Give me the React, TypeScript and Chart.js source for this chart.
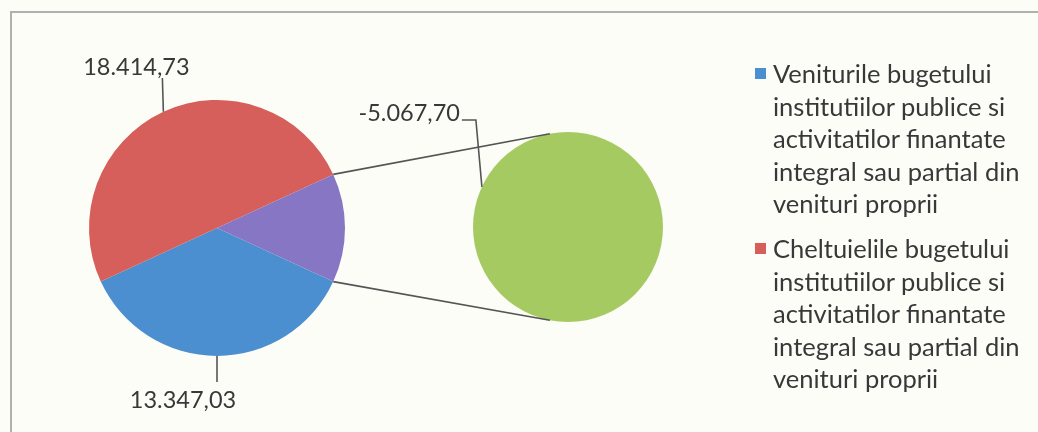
import React, { useEffect, useRef } from "react";
import { Chart, registerables } from "chart.js";
Chart.register(...registerables);

// ---- data ----
const mainCategories = [
  "Veniturile bugetului institutiilor publice si activitatilor finantate integral sau partial din venituri proprii",
  "Cheltuielile bugetului institutiilor publice si activitatilor finantate integral sau partial din venituri proprii",
  "Altele",
];
const mainValues = [13347.03, 18414.73, 5067.7];
const mainColors = ["#4b8fd0", "#d65f5b", "#8676c3"];

const secondaryCategories = ["Rezultat"];
const secondaryValues = [-5067.7];
const secondaryColors = ["#a6ca62"];

const legendItems = [
  {
    color: "#4b8fd0",
    lines: [
      "Veniturile bugetului",
      "institutiilor publice si",
      "activitatilor finantate",
      "integral sau partial din",
      "venituri proprii",
    ],
  },
  {
    color: "#d65f5b",
    lines: [
      "Cheltuielile bugetului",
      "institutiilor publice si",
      "activitatilor finantate",
      "integral sau partial din",
      "venituri proprii",
    ],
  },
];

const W = 1038;
const H = 432;
const BG = "#fdfdf8";
const TEXT = "#383838";
const LINE = "#555555";
const LABEL_FONT = "23.5px Lato";

function fmt(v: number): string {
  const neg = v < 0;
  const [i, d] = Math.abs(v).toFixed(2).split(".");
  const grouped = i.replace(/\B(?=(\d{3})+(?!\d))/g, ".");
  return (neg ? "-" : "") + grouped + "," + d;
}

export default function App() {
  const c1 = useRef<HTMLCanvasElement | null>(null);
  const c2 = useRef<HTMLCanvasElement | null>(null);

  useEffect(() => {
    document.body.style.background = BG;
    const total = mainValues.reduce((a, b) => a + b, 0);
    const otherAngle = (mainValues[2] / total) * 360;

    const mainLabelsPlugin = {
      id: "mainLabels",
      afterDraw(chart: any) {
        const ctx = chart.ctx;
        const arcs = chart.getDatasetMeta(0).data;
        ctx.save();
        ctx.strokeStyle = LINE;
        ctx.lineWidth = 1.6;
        ctx.fillStyle = TEXT;
        ctx.font = LABEL_FONT;
        ctx.textBaseline = "middle";
        ctx.textAlign = "center";
        // blue label (below)
        {
          const a: any = arcs[0];
          const m = (a.startAngle + a.endAngle) / 2;
          const px = a.x + a.outerRadius * Math.cos(m);
          const py = a.y + a.outerRadius * Math.sin(m);
          ctx.beginPath();
          ctx.moveTo(px, py);
          ctx.lineTo(px, py + 26);
          ctx.stroke();
          ctx.fillText(fmt(mainValues[0]), px - 34, py + 44);
        }
        // red label (above)
        {
          const a: any = arcs[1];
          const m = (a.startAngle + a.endAngle) / 2;
          const px = a.x + a.outerRadius * Math.cos(m);
          const py = a.y + a.outerRadius * Math.sin(m);
          ctx.beginPath();
          ctx.moveTo(px, py);
          ctx.lineTo(px - 1, 78);
          ctx.stroke();
          ctx.fillText(fmt(mainValues[1]), px - 27, 67);
        }
        ctx.restore();
      },
    };

    const chart1 = new Chart(c1.current!, {
      type: "pie",
      data: {
        labels: mainCategories,
        datasets: [
          {
            data: mainValues,
            backgroundColor: mainColors,
            borderWidth: 0,
          },
        ],
      },
      options: {
        responsive: false,
        animation: false,
        rotation: 90 + otherAngle / 2,
        layout: { padding: { left: 89, right: W - 345, top: 100, bottom: H - 356 } },
        plugins: { legend: { display: false }, tooltip: { enabled: false } },
        events: [],
      },
      plugins: [mainLabelsPlugin],
    });

    const secondaryPlugin = {
      id: "secondaryLabels",
      afterDraw(chart: any) {
        const ctx = chart.ctx;
        const g: any = chart.getDatasetMeta(0).data[0];
        const p: any = chart1.getDatasetMeta(0).data[2];
        const deg = Math.PI / 180;
        ctx.save();
        ctx.strokeStyle = LINE;
        ctx.lineWidth = 1.6;
        // connector lines
        const s1x = p.x + p.outerRadius * Math.cos(p.startAngle);
        const s1y = p.y + p.outerRadius * Math.sin(p.startAngle);
        const s2x = p.x + p.outerRadius * Math.cos(p.endAngle);
        const s2y = p.y + p.outerRadius * Math.sin(p.endAngle);
        const t1x = g.x + g.outerRadius * Math.cos(259 * deg);
        const t1y = g.y + g.outerRadius * Math.sin(259 * deg);
        const t2x = g.x + g.outerRadius * Math.cos(101 * deg);
        const t2y = g.y + g.outerRadius * Math.sin(101 * deg);
        ctx.beginPath();
        ctx.moveTo(s1x, s1y);
        ctx.lineTo(t1x, t1y);
        ctx.moveTo(s2x, s2y);
        ctx.lineTo(t2x, t2y);
        ctx.stroke();
        // label with leader
        const ax = g.x + g.outerRadius * Math.cos(205 * deg);
        const ay = g.y + g.outerRadius * Math.sin(205 * deg);
        ctx.beginPath();
        ctx.moveTo(ax, ay);
        ctx.lineTo(ax - 6, 120);
        ctx.lineTo(ax - 20, 120);
        ctx.stroke();
        ctx.fillStyle = TEXT;
        ctx.font = LABEL_FONT;
        ctx.textBaseline = "middle";
        ctx.textAlign = "right";
        ctx.fillText(fmt(secondaryValues[0]), ax - 22, 113);
        ctx.restore();
      },
    };

    const chart2 = new Chart(c2.current!, {
      type: "pie",
      data: {
        labels: secondaryCategories,
        datasets: [
          {
            data: secondaryValues,
            backgroundColor: secondaryColors,
            borderWidth: 0,
          },
        ],
      },
      options: {
        responsive: false,
        animation: false,
        layout: { padding: { left: 473, right: W - 663, top: 132, bottom: H - 322 } },
        plugins: { legend: { display: false }, tooltip: { enabled: false } },
        events: [],
      },
      plugins: [secondaryPlugin],
    });

    return () => {
      chart2.destroy();
      chart1.destroy();
    };
  }, []);

  const canvasStyle: React.CSSProperties = {
    position: "fixed",
    left: 0,
    top: 0,
    width: W,
    height: H,
  };

  return (
    <div>
      <div
        style={{
          position: "fixed",
          left: 10,
          top: 11,
          width: 1040,
          height: 440,
          border: "2px solid #b0b0b0",
          background: BG,
          boxSizing: "border-box",
        }}
      />
      <canvas ref={c1} width={W} height={H} style={canvasStyle} />
      <canvas ref={c2} width={W} height={H} style={canvasStyle} />
      <div
        style={{
          position: "fixed",
          left: 773,
          top: 57,
          fontFamily: "Lato",
          fontSize: 25.5,
          lineHeight: "32.5px",
          color: TEXT,
          whiteSpace: "nowrap",
        }}
      >
        {legendItems.map((it, i) => (
          <div key={i} style={{ position: "relative", marginBottom: 12.5 }}>
            <span
              style={{
                position: "absolute",
                left: -18,
                top: 11,
                width: 11,
                height: 11,
                background: it.color,
              }}
            />
            {it.lines.map((l, j) => (
              <div key={j}>{l}</div>
            ))}
          </div>
        ))}
      </div>
    </div>
  );
}
